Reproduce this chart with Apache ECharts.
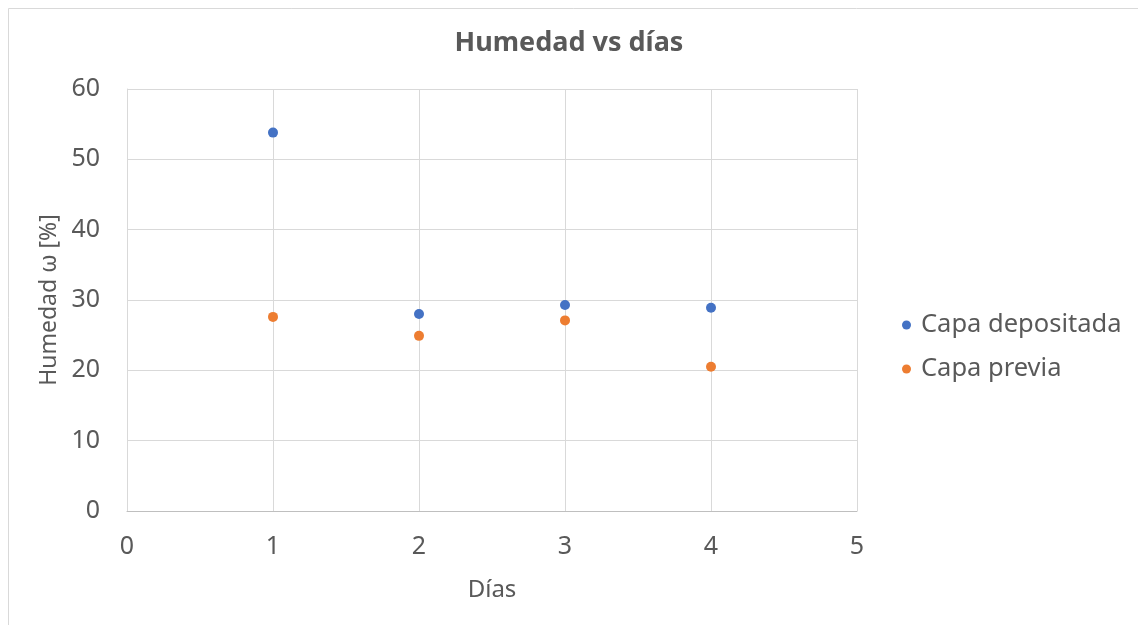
<!DOCTYPE html>
<html>
<head>
<meta charset="utf-8">
<script src="https://cdn.jsdelivr.net/npm/echarts@6/dist/echarts.min.js"></script>
<style>html,body{margin:0;padding:0;background:#fff}#c{width:1138px;height:625px}</style>
</head>
<body>
<div id="c"></div>
<script>
const days = [1, 2, 3, 4];
const capaDepositada = [53.8, 28.0, 29.3, 28.9];
const capaPrevia = [27.6, 24.9, 27.1, 20.5];
const xTicks = [0, 1, 2, 3, 4, 5];
const yTicks = [0, 10, 20, 30, 40, 50, 60];

const FONT = 'Noto Sans';
const TXT = '#595959';
const chart = echarts.init(document.getElementById('c'), null, {renderer: 'canvas'});
chart.setOption({
  backgroundColor: '#fff',
  animation: false,
  graphic: [{
    type: 'rect', left: 6, top: 6, silent: true,
    shape: {width: 1200, height: 700},
    style: {fill: 'none', stroke: '#d9d9d9', lineWidth: 1}
  }],
  title: {
    text: 'Humedad vs días',
    left: 'center', top: 25,
    textStyle: {fontFamily: FONT, fontWeight: 'bold', fontSize: 27, color: TXT}
  },
  legend: {
    orient: 'vertical', left: 897, top: 307, itemGap: 18,
    icon: 'circle', itemWidth: 9, itemHeight: 9,
    textStyle: {fontFamily: FONT, fontSize: 25.5, color: TXT, padding: [0, 0, 0, 5]},
    data: ['Capa depositada', 'Capa previa']
  },
  grid: {left: 127, right: 281, top: 89, bottom: 114, containLabel: false},
  xAxis: {
    type: 'value', min: xTicks[0], max: xTicks[xTicks.length - 1], interval: 1,
    name: 'Días', nameLocation: 'middle', nameGap: 67,
    nameTextStyle: {fontFamily: FONT, fontSize: 24, color: TXT},
    axisLine: {show: true, lineStyle: {color: '#bfbfbf'}},
    axisTick: {show: false},
    axisLabel: {fontFamily: FONT, fontSize: 25, color: TXT, margin: 23},
    splitLine: {show: true, lineStyle: {color: '#d9d9d9'}}
  },
  yAxis: {
    type: 'value', min: yTicks[0], max: yTicks[yTicks.length - 1], interval: 10,
    name: 'Humedad ω [%]', nameLocation: 'middle', nameGap: 66,
    nameTextStyle: {fontFamily: FONT, fontSize: 23, color: TXT},
    axisLine: {show: true, lineStyle: {color: '#d9d9d9'}},
    axisTick: {show: false},
    axisLabel: {fontFamily: FONT, fontSize: 25, color: TXT, margin: 27},
    splitLine: {show: true, lineStyle: {color: '#d9d9d9'}}
  },
  series: [
    {name: 'Capa depositada', type: 'scatter', symbol: 'circle', symbolSize: 10,
     itemStyle: {color: '#4472C4', opacity: 1}, data: days.map((d, i) => [d, capaDepositada[i]])},
    {name: 'Capa previa', type: 'scatter', symbol: 'circle', symbolSize: 10,
     itemStyle: {color: '#ED7D31', opacity: 1}, data: days.map((d, i) => [d, capaPrevia[i]])}
  ]
});
</script>
</body>
</html>
